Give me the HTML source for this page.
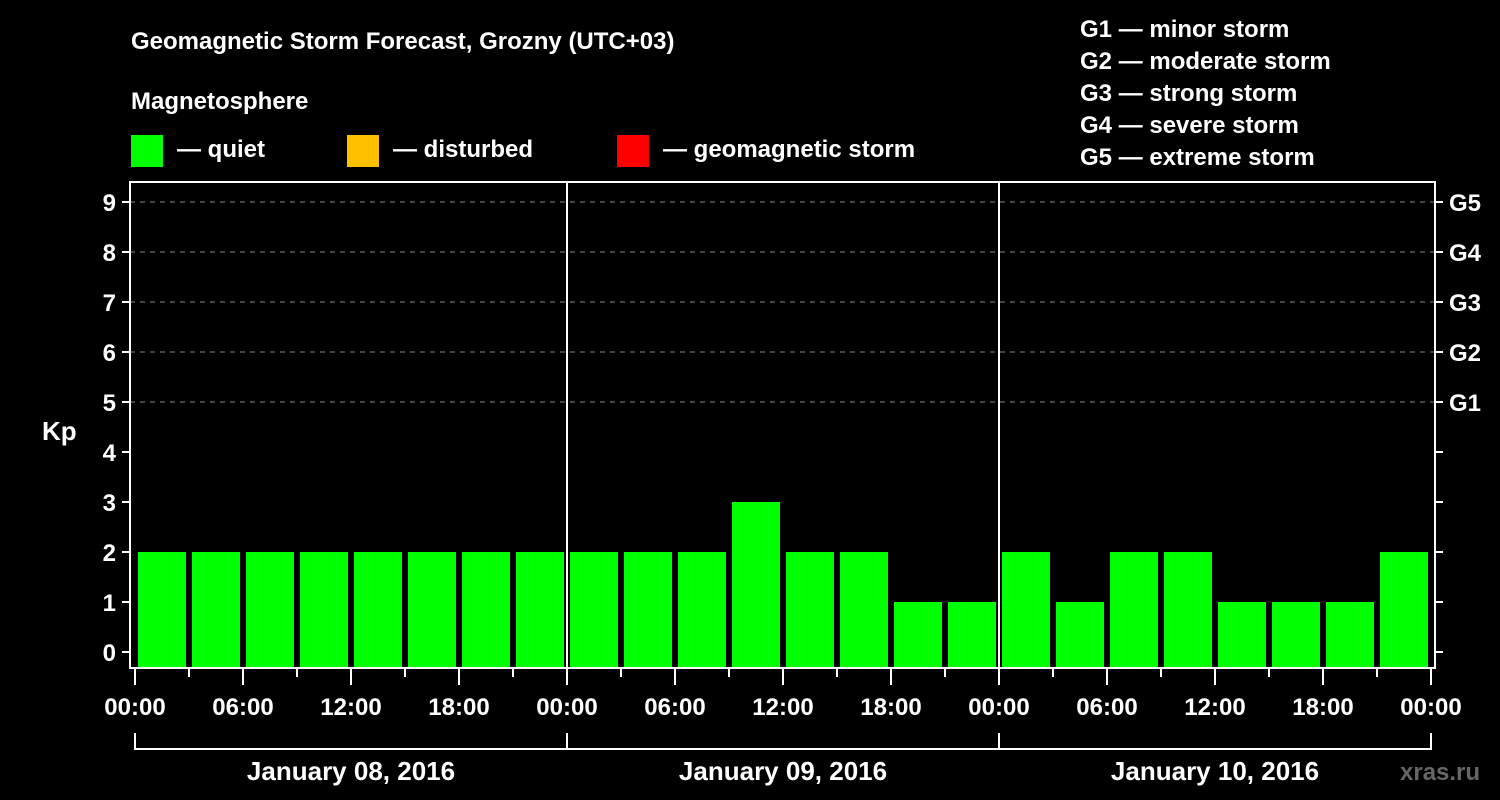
<!DOCTYPE html>
<html><head><meta charset="utf-8"><style>
body{margin:0;background:#000;}
svg{display:block;font-family:"Liberation Sans",Arial,sans-serif;font-weight:bold;}
</style></head><body>
<svg id="c" width="1500" height="800" viewBox="0 0 1500 800">
<rect width="1500" height="800" fill="#000"/>
<text x="131" y="49" fill="#fff" font-size="24">Geomagnetic Storm Forecast, Grozny (UTC+03)</text>
<text x="131" y="109" fill="#fff" font-size="24">Magnetosphere</text>
<g><rect x="131" y="135" width="32" height="32" fill="#00ff00"/><text x="177" y="157" fill="#fff" font-size="24">— quiet</text></g>
<g><rect x="347" y="135" width="32" height="32" fill="#ffc000"/><text x="393" y="157" fill="#fff" font-size="24">— disturbed</text></g>
<g><rect x="617" y="135" width="32" height="32" fill="#ff0000"/><text x="663" y="157" fill="#fff" font-size="24">— geomagnetic storm</text></g>
<g fill="#fff" font-size="24">
<text x="1080" y="37">G1 — minor storm</text>
<text x="1080" y="69">G2 — moderate storm</text>
<text x="1080" y="101">G3 — strong storm</text>
<text x="1080" y="133">G4 — severe storm</text>
<text x="1080" y="165">G5 — extreme storm</text>
</g>
<text x="42" y="440" fill="#fff" font-size="26">Kp</text>
<text x="1400" y="780" fill="#666" font-size="24">xras.ru</text>
<g id="plot"></g>
</svg>
<script>
const kpValues=[2,2,2,2,2,2,2,2, 2,2,2,3,2,2,1,1, 2,1,2,2,1,1,1,2];
const dayLabels=["January 08, 2016","January 09, 2016","January 10, 2016"];
const hourLabels=["00:00","06:00","12:00","18:00"];
const yTicks=[0,1,2,3,4,5,6,7,8,9];
const gLabels=["G1","G2","G3","G4","G5"];

const NS="http://www.w3.org/2000/svg";
const g=document.getElementById('plot');
const X0=135,X1=1431,L=130,R=1435,T=182,B=668;
const xs=h=>X0+(X1-X0)*h/72;
const ys=v=>652-50*v;
function mk(tag,a,parent){const e=document.createElementNS(NS,tag);for(const k in a)e.setAttribute(k,a[k]);(parent||g).appendChild(e);return e;}
// grid
yTicks.forEach(v=>{
  if(v>=5){const l=mk('line',{x1:L,x2:R,y1:ys(v),y2:ys(v),stroke:'#888','stroke-width':1,'stroke-dasharray':'5,5'});
  
  }
  const t=mk('line',{x1:L-8,x2:L,y1:ys(v),y2:ys(v),stroke:'#fff','stroke-width':2});
  
  
  const t2=mk('line',{x1:R,x2:R+8,y1:ys(v),y2:ys(v),stroke:'#fff','stroke-width':2});
  
  
  const tx=mk('text',{x:L-14,y:ys(v)+9,fill:'#fff','font-size':24,'text-anchor':'end'});
  tx.textContent=v;
  
  
});
gLabels.forEach((s,i)=>{
  const tx=mk('text',{x:R+14,y:ys(5+i)+9,fill:'#fff','font-size':24});
  tx.textContent=s;
  
  
});
// bars
kpValues.forEach((v,i)=>{
  const x=xs(i*3)+3,w=xs(3)-xs(0)-6;
  const col=v>=5?'#ff0000':(v>=4?'#ffc000':'#00ff00');
  const r=mk('rect',{x:x,y:ys(v),width:w,height:B-ys(v),fill:col});
  
  
});
// frame
const fr=mk('rect',{x:L,y:T,width:R-L,height:B-T,fill:'none',stroke:'#fff','stroke-width':2});


[1,2].forEach(d=>{const l=mk('line',{x1:xs(d*24),x2:xs(d*24),y1:T,y2:B,stroke:'#fff','stroke-width':2});

});
// x ticks
for(let h=0;h<=72;h+=3){
  const major=h%6===0;
  const l=mk('line',{x1:xs(h),x2:xs(h),y1:B,y2:major?685:677,stroke:'#fff','stroke-width':2});
  
  
  if(major){const tx=mk('text',{x:xs(h),y:715,fill:'#fff','font-size':24,'text-anchor':'middle'});
  tx.textContent=hourLabels[(h/6)%4];
  
  }
}
// day brackets
mk('line',{x1:xs(0),x2:xs(72),y1:749,y2:749,stroke:'#fff','stroke-width':2});
for(let d=0;d<=3;d++){const l=mk('line',{x1:xs(d*24),x2:xs(d*24),y1:733,y2:750,stroke:'#fff','stroke-width':2});

}
dayLabels.forEach((s,d)=>{
  const tx=mk('text',{x:xs(d*24+12),y:780,fill:'#fff','font-size':26,'text-anchor':'middle'});
  tx.textContent=s;
  
  
});
</script>
</body></html>
